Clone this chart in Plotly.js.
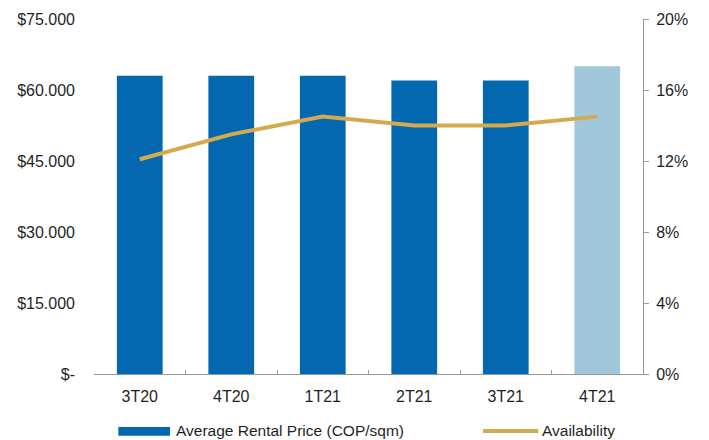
<!DOCTYPE html>
<html>
<head>
<meta charset="utf-8">
<script src="https://cdn.plot.ly/plotly-3.0.1.min.js"></script>
<style>
  html, body { margin: 0; padding: 0; background: #ffffff; }
  #chart { width: 709px; height: 440px; }
</style>
</head>
<body>
<div id="chart"></div>
<script>
// Quarterly office market figures
const quarters = ['3T20', '4T20', '1T21', '2T21', '3T21', '4T21'];
const rentalPrice = [63000, 63000, 63000, 62000, 62000, 65000];   // COP per sqm
const availability = [0.121, 0.135, 0.145, 0.140, 0.140, 0.145];  // share of stock

const priceTickVals = [0, 15000, 30000, 45000, 60000, 75000];
const priceTickText = ['$-', '$15.000', '$30.000', '$45.000', '$60.000', '$75.000'];
const rateTickVals = [0, 0.04, 0.08, 0.12, 0.16, 0.20];
const rateTickText = ['0%', '4%', '8%', '12%', '16%', '20%'];

const legendNames = ['Average Rental Price (COP/sqm)', 'Availability'];

const DARK_BLUE = '#0468b1';
const LIGHT_BLUE = '#a1c7da';
const GOLD = '#d4aa4f';
const AXIS_GREY = '#999999';
const TEXT = '#1f1f1f';
const FONT = 'Liberation Sans, Arial, sans-serif';

// the last quarter is highlighted in a lighter tone
const barColors = quarters.map((q, i) => i === quarters.length - 1 ? LIGHT_BLUE : DARK_BLUE);

const traces = [
  {
    type: 'bar',
    name: legendNames[0],
    x: quarters,
    y: rentalPrice,
    marker: { color: barColors },
    yaxis: 'y',
    hoverinfo: 'x+y'
  },
  {
    type: 'scatter',
    mode: 'lines',
    name: legendNames[1],
    x: quarters,
    y: availability,
    line: { color: GOLD, width: 4 },
    yaxis: 'y2',
    cliponaxis: false
  }
];

const layout = {
  width: 709,
  height: 440,
  margin: { l: 94, r: 66, t: 19, b: 66 },
  paper_bgcolor: '#ffffff',
  plot_bgcolor: '#ffffff',
  showlegend: false,
  bargap: 0.5,
  font: { family: FONT, size: 16, color: TEXT },
  xaxis: {
    type: 'category',
    showgrid: false,
    zeroline: false,
    showline: true,
    linecolor: AXIS_GREY,
    linewidth: 1,
    ticks: 'inside',
    ticklen: 4,
    tickcolor: AXIS_GREY,
    tickson: 'boundaries',
    ticklabelstandoff: 8,
    tickfont: { family: FONT, size: 16, color: TEXT }
  },
  yaxis: {
    range: [0, 75000],
    tickvals: priceTickVals,
    ticktext: priceTickText,
    showgrid: false,
    zeroline: false,
    showline: false,
    ticks: '',
    ticklabelstandoff: 18,
    tickfont: { family: FONT, size: 16, color: TEXT }
  },
  yaxis2: {
    overlaying: 'y',
    side: 'right',
    range: [0, 0.2],
    tickvals: rateTickVals,
    ticktext: rateTickText,
    showgrid: false,
    zeroline: false,
    showline: true,
    linecolor: AXIS_GREY,
    linewidth: 1,
    ticks: 'outside',
    ticklen: 5,
    tickcolor: AXIS_GREY,
    ticklabelstandoff: 4,
    tickfont: { family: FONT, size: 16, color: TEXT }
  },
  // legend row below the axis
  shapes: [
    {
      type: 'rect', xref: 'paper', yref: 'paper',
      x0: 0.0443, x1: 0.1384, y0: -0.1738, y1: -0.1493,
      fillcolor: DARK_BLUE, line: { width: 0 }
    },
    {
      type: 'line', xref: 'paper', yref: 'paper',
      x0: 0.7086, x1: 0.8093, y0: -0.1606, y1: -0.1606,
      line: { color: GOLD, width: 4 }
    }
  ],
  annotations: [
    {
      xref: 'paper', yref: 'paper', x: 0.1450, y: -0.1597,
      xanchor: 'left', yanchor: 'middle', showarrow: false,
      text: legendNames[0], font: { family: FONT, size: 15.5, color: TEXT }
    },
    {
      xref: 'paper', yref: 'paper', x: 0.8130, y: -0.1597,
      xanchor: 'left', yanchor: 'middle', showarrow: false,
      text: legendNames[1], font: { family: FONT, size: 15.5, color: TEXT }
    }
  ]
};

Plotly.newPlot('chart', traces, layout, { displayModeBar: false, staticPlot: true });
</script>
</body>
</html>
